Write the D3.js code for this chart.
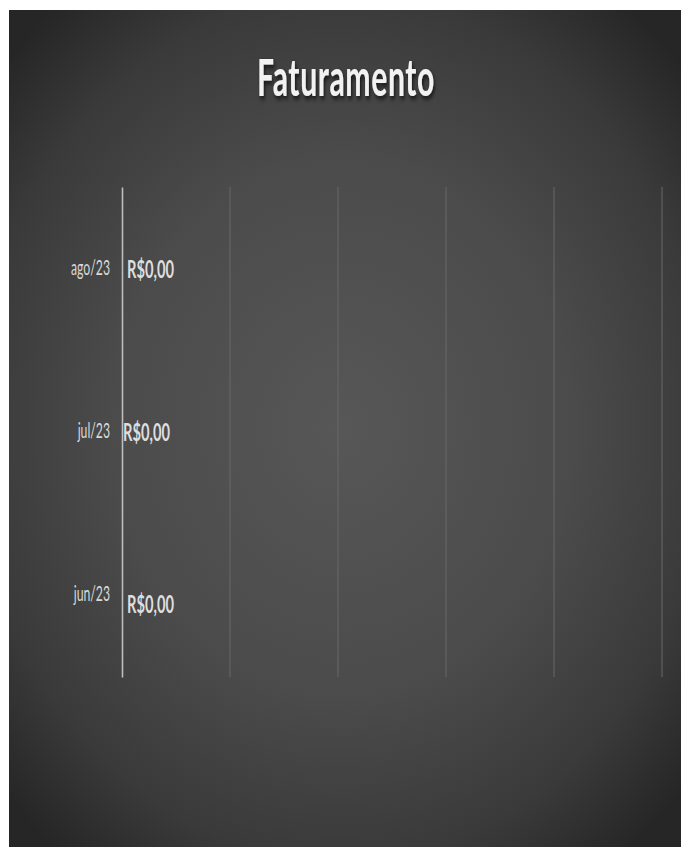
<!DOCTYPE html>
<html>
<head>
<meta charset="utf-8">
<script src="https://cdn.jsdelivr.net/npm/d3@7"></script>
<style>
  html, body { margin: 0; padding: 0; background: #ffffff; }
  svg { display: block; }
</style>
</head>
<body>
<script>
// ---- data ----
const title = "Faturamento";
const categories = ["jun/23", "jul/23", "ago/23"];
const values = [0, 0, 0];
const xTicks = [0, 1, 2, 3, 4, 5];

const W = 682, H = 847;
const svg = d3.select("body").append("svg").attr("width", W).attr("height", H);
const defs = svg.append("defs");

const grad = defs.append("radialGradient")
  .attr("id", "bg").attr("gradientUnits", "userSpaceOnUse")
  .attr("cx", 342).attr("cy", 428).attr("r", 540)
  .attr("fx", 342).attr("fy", 428)
  .attr("gradientTransform", "translate(342,428) scale(0.85,1) translate(-342,-428)");
grad.append("stop").attr("offset", 0).attr("stop-color", "#575757");
grad.append("stop").attr("offset", 0.5).attr("stop-color", "#4b4b4b");
grad.append("stop").attr("offset", 0.8).attr("stop-color", "#3a3a3a");
grad.append("stop").attr("offset", 1).attr("stop-color", "#262626");

const shadow = defs.append("filter").attr("id", "shadow")
  .attr("x", "-20%").attr("y", "-20%").attr("width", "140%").attr("height", "160%");
shadow.append("feDropShadow").attr("dx", 2).attr("dy", 3).attr("stdDeviation", 2.5)
  .attr("flood-color", "#000").attr("flood-opacity", 0.7);

svg.append("rect").attr("x", 9).attr("y", 10).attr("width", 672).attr("height", 837)
  .attr("fill", "url(#bg)");

// ---- scales ----
const x = d3.scaleLinear().domain([0, 5]).range([122, 662]);
const y = d3.scaleBand().domain(categories.slice().reverse()).range([187, 677]);

// gridlines
svg.append("g").selectAll("line").data(xTicks.filter(t => t > 0)).join("line")
  .attr("x1", d => x(d)).attr("x2", d => x(d))
  .attr("y1", y.range()[0]).attr("y2", y.range()[1])
  .attr("stroke", "#686868").attr("stroke-width", 1);

// y axis
const yAxis = d3.axisLeft(y).tickSize(0).tickPadding(12);
const gy = svg.append("g").attr("transform", `translate(${x(0)},0)`).call(yAxis);
gy.select(".domain").attr("stroke", "#bdbdbd").attr("stroke-width", 1.6);
gy.selectAll("text")
  .attr("fill", "#d9d9d9")
  .style("font-family", "Lato, 'Open Sans', sans-serif")
  .style("font-size", "21px");

{
  const texts = gy.selectAll("text");
  let k = 1;
  texts.each(function(d) { if (d === "ago/23") k = 39 / this.getComputedTextLength(); });
  texts.each(function() {
    d3.select(this).attr("x", null).attr("dy", null)
      .attr("transform", `translate(-12,6) scale(${k},1)`);
  });
}

// bars (zero-width)
const rows = categories.map((c, i) => ({ c, v: values[i] }));
svg.append("g").selectAll("rect").data(rows).join("rect")
  .attr("x", x(0)).attr("y", d => y(d.c) + y.bandwidth() * 0.2)
  .attr("width", d => x(d.v) - x(0)).attr("height", y.bandwidth() * 0.6)
  .attr("fill", "#8c8c8c");

// data labels
const fmt = v => "R$" + d3.format(",.2f")(v).replace(/,/g, "#").replace(".", ",").replace(/#/g, ".");
const lab = svg.append("g").selectAll("text").data(rows).join("text")
  .text(d => fmt(d.v))
  .attr("fill", "#dedede")
  .style("font-family", "Lato, 'Open Sans', sans-serif")
  .style("font-weight", "bold")
  .style("font-size", "24px");
{
  const k = 47 / lab.node().getComputedTextLength();
  lab.attr("transform", (d, i) => `translate(${x(d.v) + (d.c === "jul/23" ? 1 : 5)},${y(d.c) + y.bandwidth() / 2 + (d.c === "jun/23" ? 18 : 9)}) scale(${k},1)`);
}

// title
const tt = svg.append("text").text(title)
  .attr("text-anchor", "middle")
  .attr("fill", "#f2f2f2")
  .attr("filter", "url(#shadow)")
  .style("font-family", "Lato, 'Open Sans', sans-serif")
  .style("font-weight", "bold")
  .style("font-size", "52px")
  .style("letter-spacing", "1px");
{
  const k = 178 / tt.node().getComputedTextLength();
  tt.attr("transform", `translate(346,96) scale(${k},1)`);
}
</script>
</body>
</html>
